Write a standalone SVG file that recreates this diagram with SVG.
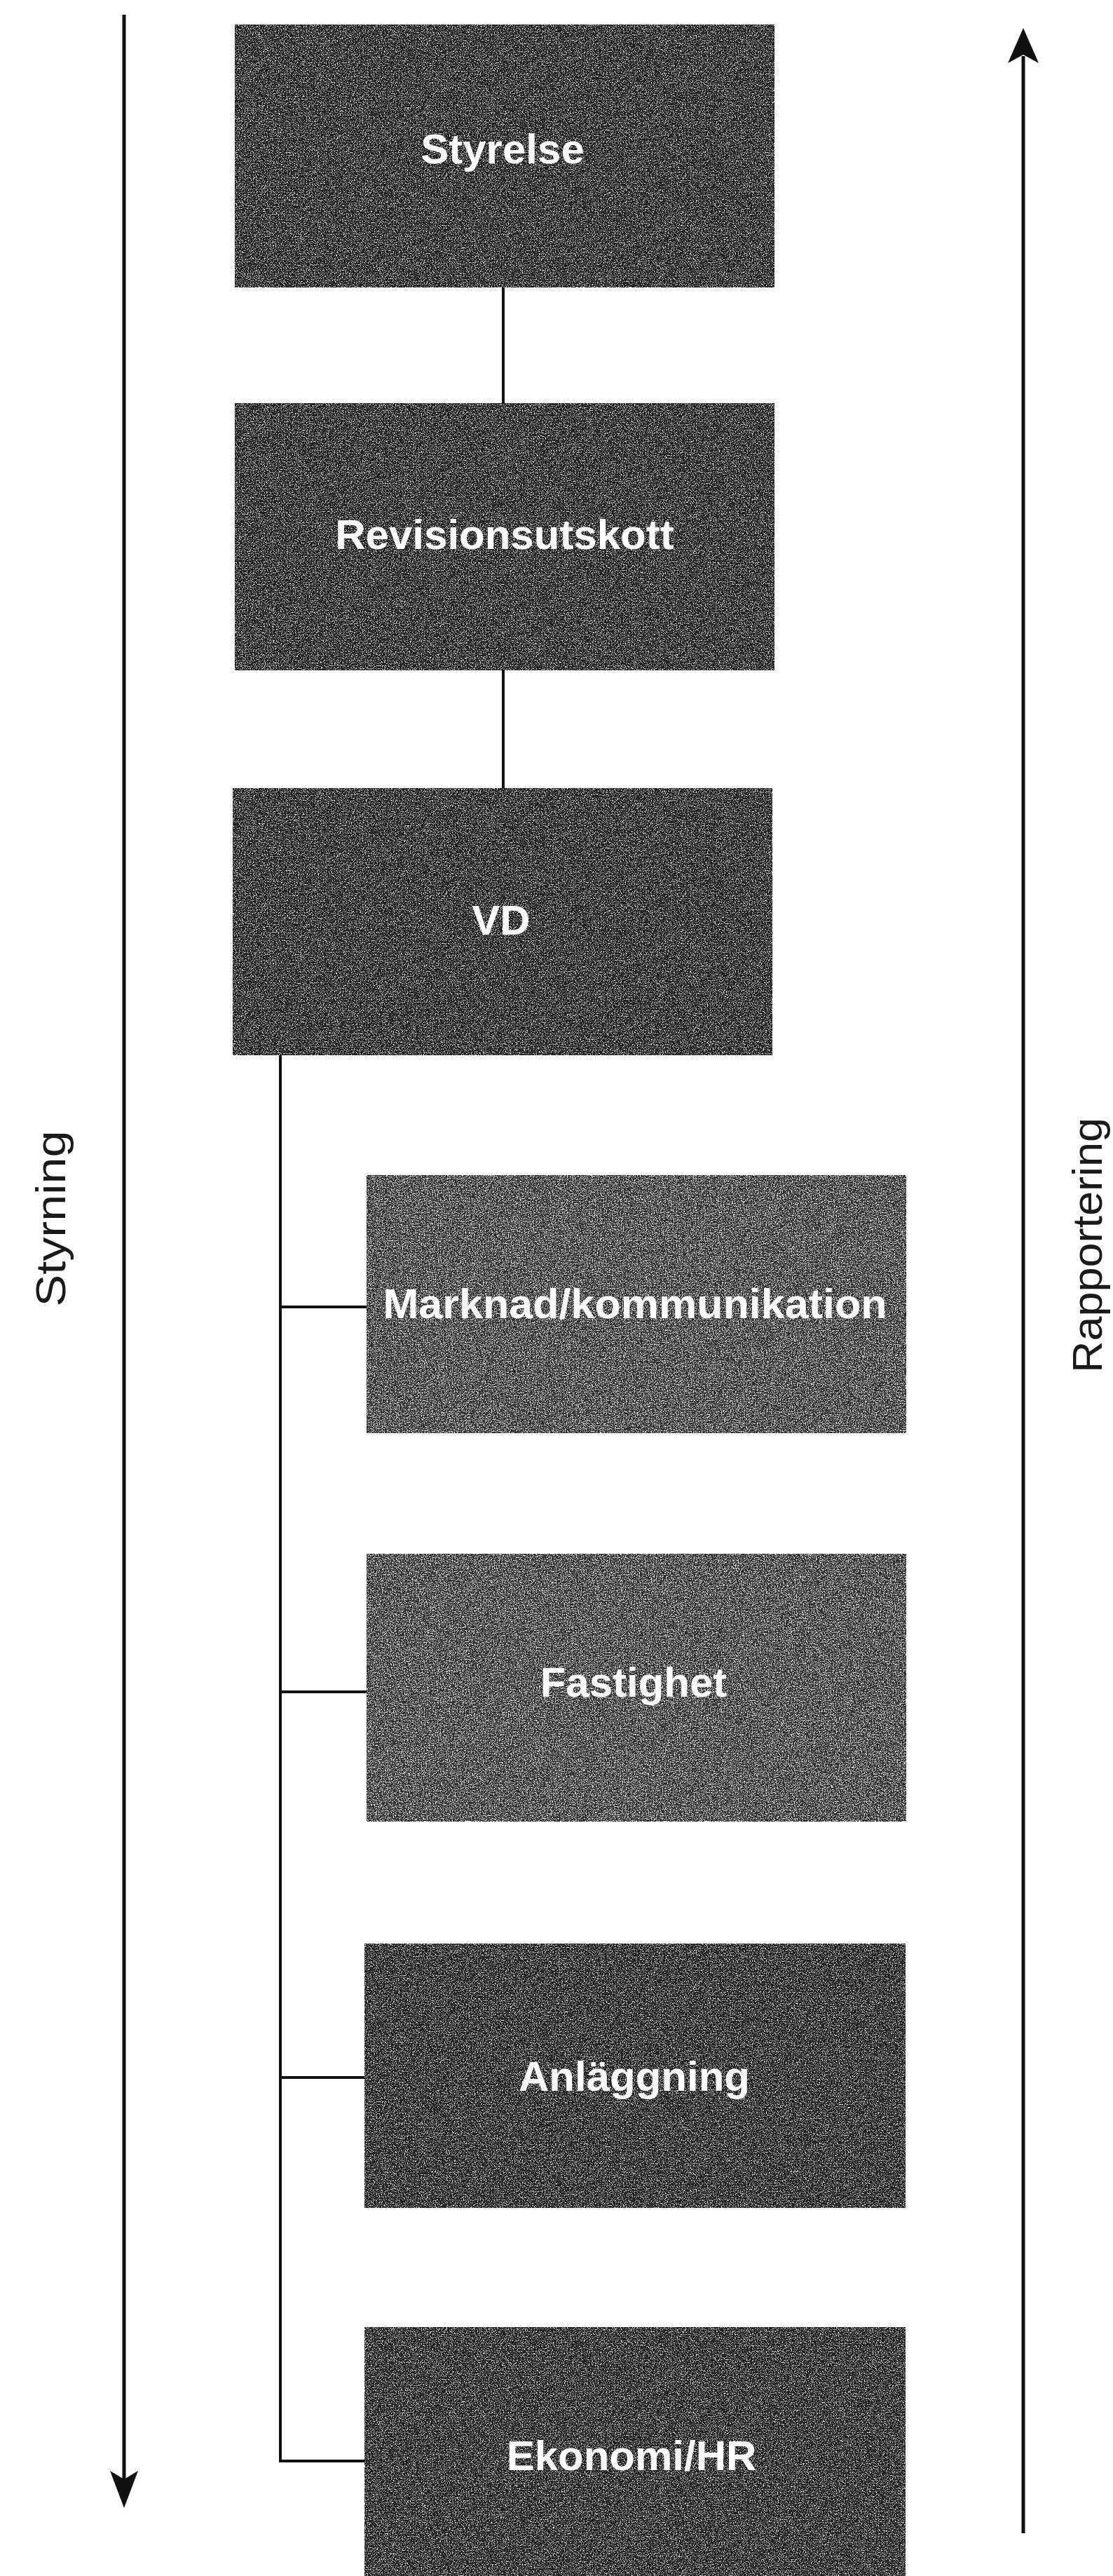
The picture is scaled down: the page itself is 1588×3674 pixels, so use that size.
<svg xmlns="http://www.w3.org/2000/svg" width="1588" height="3674" viewBox="0 0 1588 3674">
<style>
.box{fill:#1c1c1c;}
.box2{fill:#262626;}
.grain{filter:url(#speck);}
.grain2{filter:url(#speck2);}
.lbl{font-family:"Liberation Sans",Arial,sans-serif;font-weight:bold;font-size:60px;fill:#ffffff;text-anchor:middle;}
.side{font-family:"Liberation Sans",Arial,sans-serif;font-size:60px;fill:#1a1a1a;text-anchor:middle;}
.ln{stroke:#111;stroke-width:5;fill:none;}
.cn{stroke:#111;stroke-width:4;fill:none;}
.head{fill:#111;}
</style>
<defs>
<filter id="speck" x="0" y="0" width="1" height="1" filterUnits="objectBoundingBox" color-interpolation-filters="sRGB">
<feTurbulence type="fractalNoise" baseFrequency="0.75" numOctaves="2" seed="7" result="n"/>
<feColorMatrix in="n" type="matrix" values="0 0 0 0 1  0 0 0 0 1  0 0 0 0 1  5 0 0 0 -2.55" result="w"/>
<feComposite in="w" in2="SourceGraphic" operator="in"/>
</filter>
<filter id="speck2" x="0" y="0" width="1" height="1" filterUnits="objectBoundingBox" color-interpolation-filters="sRGB">
<feTurbulence type="fractalNoise" baseFrequency="0.75" numOctaves="2" seed="11" result="n"/>
<feColorMatrix in="n" type="matrix" values="0 0 0 0 1  0 0 0 0 1  0 0 0 0 1  5 0 0 0 -2.4" result="w"/>
<feComposite in="w" in2="SourceGraphic" operator="in"/>
</filter>
</defs>
<rect width="1588" height="3674" fill="#ffffff"/>
<g id="connectors">
<line class="ln" x1="177" y1="21" x2="177" y2="3540"/>
<path class="head" d="M177 3577 L157 3524 L177 3536 L197 3524 Z"/>
<line class="ln" x1="1460" y1="80" x2="1460" y2="3613"/>
<path class="head" d="M1460 40 L1438 90 L1460 78 L1482 90 Z"/>
<line class="cn" x1="718" y1="410" x2="718" y2="575"/>
<line class="cn" x1="718" y1="956" x2="718" y2="1124"/>
<polyline class="cn" points="400,1505 400,3510 523,3510"/>
<line class="cn" x1="400" y1="1864" x2="523" y2="1864"/>
<line class="cn" x1="400" y1="2413" x2="523" y2="2413"/>
<line class="cn" x1="400" y1="2963" x2="523" y2="2963"/>
</g>
<g id="styrning">
<text class="side" transform="translate(93 1738) rotate(-90)" textLength="251" lengthAdjust="spacingAndGlyphs">Styrning</text>
</g>
<g id="rapportering">
<text class="side" transform="translate(1572 1776) rotate(-90)" textLength="364" lengthAdjust="spacingAndGlyphs">Rapportering</text>
</g>
<g id="styrelse">
<rect class="box" x="335" y="35" width="770" height="375"/>
<rect class="box grain" x="335" y="35" width="770" height="375"/>
<text class="lbl" x="717" y="233">Styrelse</text>
</g>
<g id="revisionsutskott">
<rect class="box" x="335" y="575" width="770" height="381"/>
<rect class="box grain" x="335" y="575" width="770" height="381"/>
<text class="lbl" x="720" y="783">Revisionsutskott</text>
</g>
<g id="vd">
<rect class="box" x="332" y="1124" width="770" height="381"/>
<rect class="box grain" x="332" y="1124" width="770" height="381"/>
<text class="lbl" x="715" y="1333">VD</text>
</g>
<g id="marknad">
<rect class="box2" x="523" y="1676" width="770" height="368"/>
<rect class="box2 grain2" x="523" y="1676" width="770" height="368"/>
<text class="lbl" x="906" y="1880" textLength="719" lengthAdjust="spacingAndGlyphs">Marknad/kommunikation</text>
</g>
<g id="fastighet">
<rect class="box2" x="523" y="2216" width="770" height="382"/>
<rect class="box2 grain2" x="523" y="2216" width="770" height="382"/>
<text class="lbl" x="904" y="2420">Fastighet</text>
</g>
<g id="anlaggning">
<rect class="box" x="520" y="2772" width="772" height="377"/>
<rect class="box grain" x="520" y="2772" width="772" height="377"/>
<text class="lbl" x="905" y="2982">Anläggning</text>
</g>
<g id="ekonomi">
<rect class="box" x="520" y="3319" width="772" height="380"/>
<rect class="box grain" x="520" y="3319" width="772" height="380"/>
<text class="lbl" x="901" y="3523">Ekonomi/HR</text>
</g>
</svg>
